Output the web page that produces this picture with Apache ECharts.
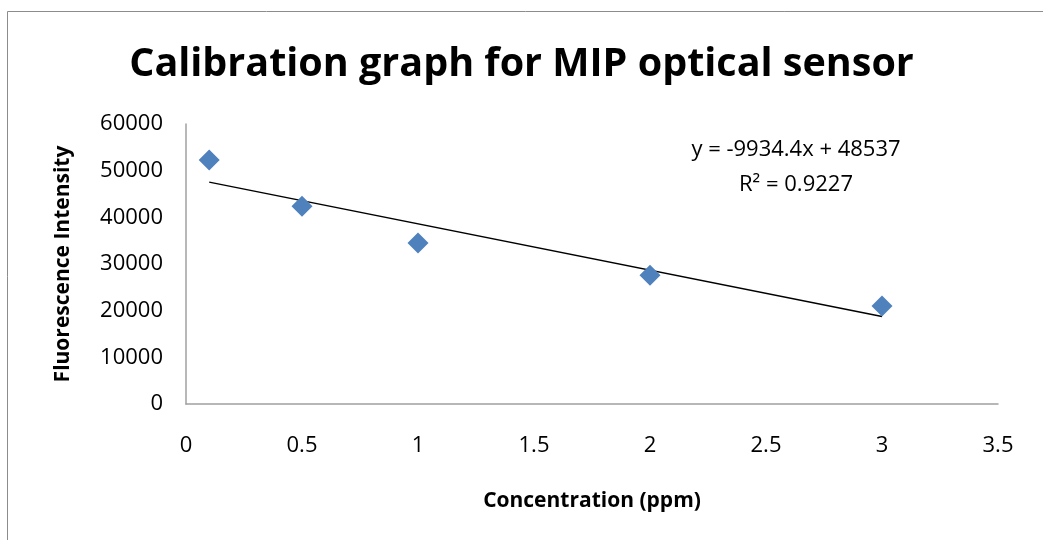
<!DOCTYPE html>
<html><head><meta charset="utf-8">
<script src="https://cdn.jsdelivr.net/npm/echarts@6/dist/echarts.min.js"></script>
<style>html,body{margin:0;padding:0;background:#fff}#c{width:1043px;height:540px}</style>
</head><body><div id="c"></div>
<script>
const concentrations = [0.1, 0.5, 1, 2, 3];
const intensities = [52300, 42400, 34500, 27600, 21000];
const slope = -9934.4;
const intercept = 48537;
const equationLines = ['y = -9934.4x + 48537', 'R² = 0.9227'];
const xTicks = [0, 0.5, 1, 1.5, 2, 2.5, 3, 3.5];
const yTicks = [0, 10000, 20000, 30000, 40000, 50000, 60000];

const FONT = '"Open Sans", "Noto Sans", sans-serif';
const xMin = Math.min(...concentrations), xMax = Math.max(...concentrations);
const trend = [[xMin, slope * xMin + intercept], [xMax, slope * xMax + intercept]];

const chart = echarts.init(document.getElementById('c'));
chart.setOption({
  animation: false,
  backgroundColor: '#fff',
  title: {
    text: 'Calibration graph for MIP optical sensor',
    left: 'center', top: 40,
    textStyle: { fontFamily: FONT, fontWeight: 'bold', fontSize: 39.5, color: '#000' }
  },
  graphic: [
    { type: 'rect', shape: { x: 7.5, y: 11.5, width: 1100, height: 600 },
      style: { fill: 'none', stroke: '#8c8c8c', lineWidth: 1 }, silent: true },
    { type: 'text', x: 796, y: 132,
      style: { text: equationLines.join('\n'), align: 'center', verticalAlign: 'top', fontFamily: FONT, fontSize: 22, lineHeight: 35, fill: '#000' } }
  ],
  grid: { left: 186, right: 45, top: 124, bottom: 136 },
  xAxis: {
    type: 'value', min: xTicks[0], max: xTicks[xTicks.length - 1], interval: 0.5,
    name: 'Concentration (ppm)', nameLocation: 'middle', nameGap: 87,
    nameTextStyle: { fontFamily: FONT, fontWeight: 'bold', fontSize: 21, color: '#000' },
    axisLine: { lineStyle: { color: '#a0a0a0', width: 1.5 } },
    axisTick: { show: false }, splitLine: { show: false },
    axisLabel: { margin: 31, fontFamily: FONT, fontSize: 22, color: '#000', formatter: v => String(v) }
  },
  yAxis: {
    type: 'value', min: yTicks[0], max: yTicks[yTicks.length - 1], interval: 10000,
    name: 'Fluorescence Intensity', nameLocation: 'middle', nameGap: 112, nameRotate: 90,
    nameTextStyle: { fontFamily: FONT, fontWeight: 'bold', fontSize: 21, color: '#000' },
    axisLine: { show: true, lineStyle: { color: '#a0a0a0', width: 1.5 } },
    axisTick: { show: false }, splitLine: { show: false },
    axisLabel: { margin: 23, fontFamily: FONT, fontSize: 22, color: '#000', formatter: v => String(v) }
  },
  series: [
    { type: 'line', data: trend, symbol: 'none', lineStyle: { color: '#000', width: 1.5 }, z: 2 },
    { type: 'scatter', data: concentrations.map((c, i) => [c, intensities[i]]),
      symbol: 'diamond', symbolSize: [21, 21], itemStyle: { color: '#4F81BD', opacity: 1 }, z: 3 }
  ]
});
</script></body></html>
